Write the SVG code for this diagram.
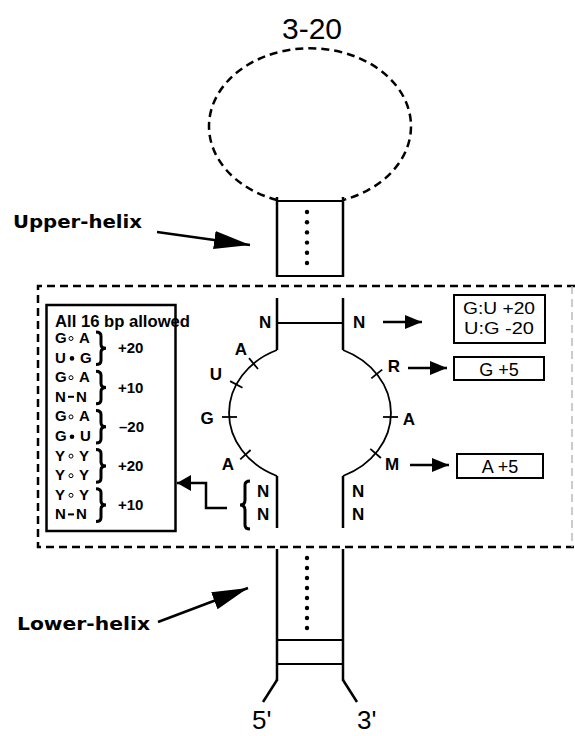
<svg xmlns="http://www.w3.org/2000/svg" width="575" height="736" viewBox="0 0 575 736">
<style>
  .ln{stroke:#000;fill:none;stroke-width:2.5;stroke-linecap:butt}
  .br{stroke:#000;fill:none;stroke-width:3}
  .thin{stroke:#000;fill:none;stroke-width:1.8}
  .dash{stroke:#000;fill:none;stroke-width:2.5;stroke-dasharray:8 5}
  .lbl{font-family:"Liberation Sans",Arial,sans-serif;font-weight:bold;font-size:17px;fill:#000}
  .big{font-family:"Liberation Sans",Arial,sans-serif;font-size:30px;fill:#000}
  .hx{font-family:"DejaVu Sans","Liberation Sans",sans-serif;font-weight:bold;font-size:18px;fill:#000}
  .bx{font-family:"Liberation Sans",Arial,sans-serif;font-weight:bold;font-size:15px;fill:#000}
  .rt{font-family:"Liberation Sans",Arial,sans-serif;font-size:18px;fill:#000}
  .dot{fill:#000}
</style>
<defs>
  <marker id="bigHead" markerUnits="userSpaceOnUse" markerWidth="38" markerHeight="20" refX="36" refY="9" orient="auto">
    <path d="M0,0 L36,9 L0,18 z" fill="#000"/>
  </marker>
  <marker id="smallHead" markerUnits="userSpaceOnUse" markerWidth="18" markerHeight="16" refX="17" refY="7" orient="auto">
    <path d="M0,0 L17,7 L0,14 z" fill="#000"/>
  </marker>
  <marker id="boxHead" markerUnits="userSpaceOnUse" markerWidth="16" markerHeight="18" refX="14" refY="8" orient="auto">
    <path d="M0,0 L14,8 L0,16 z" fill="#000"/>
  </marker>
</defs>

<!-- hairpin loop -->
<g id="hairpin-loop">
  <path class="dash" d="M277,200 A101,78 0 1 1 343,200"/>
  <text class="big" x="312" y="39" text-anchor="middle">3-20</text>
</g>

<!-- upper helix -->
<g id="upper-helix">
  <line class="ln" x1="277" y1="197" x2="277" y2="277"/>
  <line class="ln" x1="343" y1="197" x2="343" y2="277"/>
  <line class="thin" x1="277" y1="201" x2="343" y2="201"/>
  <line class="thin" x1="277" y1="276" x2="343" y2="276"/>
  <circle class="dot" cx="307" cy="212" r="2.2"/>
  <circle class="dot" cx="307" cy="222.2" r="2.2"/>
  <circle class="dot" cx="307" cy="232.4" r="2.2"/>
  <circle class="dot" cx="307" cy="242.6" r="2.2"/>
  <circle class="dot" cx="307" cy="252.8" r="2.2"/>
  <circle class="dot" cx="307" cy="263" r="2.2"/>
</g>
<g id="upper-helix-label">
  <text class="hx" x="13" y="228" textLength="129" lengthAdjust="spacingAndGlyphs">Upper-helix</text>
</g>

<!-- dashed region -->
<g id="internal-loop-region">
  <path class="dash" d="M575,286 H38 V547 H575"/>
  <path d="M572,286 V547" fill="none" stroke="#bbb" stroke-width="1.5" stroke-dasharray="8 5"/>
</g>

<!-- internal loop -->
<g id="internal-loop">
  <line class="ln" x1="277" y1="298" x2="277" y2="350"/>
  <line class="ln" x1="343" y1="298" x2="343" y2="350"/>
  <line class="thin" x1="277" y1="323" x2="343" y2="323"/>
  <path class="thin" d="M277,350 A81,69 0 0 0 277,476"/>
  <path class="thin" d="M343,350 A81,69 0 0 1 343,476"/>
  <line class="ln" x1="277" y1="476" x2="277" y2="528"/>
  <line class="ln" x1="343" y1="476" x2="343" y2="528"/>
  <!-- ticks -->
  <line class="thin" x1="249" y1="358.2" x2="258" y2="369"/>
  <line class="thin" x1="230.1" y1="381.1" x2="242.5" y2="387.7"/>
  <line class="thin" x1="222" y1="417" x2="237" y2="417"/>
  <line class="thin" x1="240.2" y1="459.4" x2="250.6" y2="450"/>
  <line class="thin" x1="371.3" y1="378.4" x2="382.2" y2="369.6"/>
  <line class="thin" x1="383" y1="417" x2="398" y2="417"/>
  <line class="thin" x1="370.3" y1="448.9" x2="380.9" y2="458"/>
  <!-- labels -->
  <text class="lbl" x="259" y="328">N</text>
  <text class="lbl" x="353" y="328">N</text>
  <text class="lbl" x="241" y="355" text-anchor="middle">A</text>
  <text class="lbl" x="216" y="380" text-anchor="middle">U</text>
  <text class="lbl" x="207" y="424" text-anchor="middle">G</text>
  <text class="lbl" x="228" y="470" text-anchor="middle">A</text>
  <text class="lbl" x="394" y="372" text-anchor="middle">R</text>
  <text class="lbl" x="409" y="425" text-anchor="middle">A</text>
  <text class="lbl" x="392" y="470" text-anchor="middle">M</text>
  <text class="lbl" x="257" y="497">N</text>
  <text class="lbl" x="257" y="520">N</text>
  <text class="lbl" x="352" y="497">N</text>
  <text class="lbl" x="352" y="520">N</text>
  <path class="br" d="M250,481 Q245,481 245,485 V500 Q245,505 240,505 Q245,505 245,510 V525 Q245,529 250,529"/>
</g>

<!-- left score box -->
<g id="pair-score-box">
  <rect x="46.5" y="305" width="129" height="226" fill="none" stroke="#000" stroke-width="2.5"/>
  <text class="bx" x="55" y="327" textLength="135" lengthAdjust="spacingAndGlyphs" style="font-size:16px">All 16 bp allowed</text>
  <!-- rows -->
  <text class="bx" x="55" y="343">G</text><circle cx="71" cy="338.5" r="2" fill="#fff" stroke="#000" stroke-width="1"/><text class="bx" x="79" y="343">A</text>
  <text class="bx" x="55" y="362.6">U</text><circle cx="72" cy="358.4" r="2.3" fill="#000"/><text class="bx" x="80" y="362.6">G</text>
  <text class="bx" x="55" y="382.2">G</text><circle cx="71" cy="377.7" r="2" fill="#fff" stroke="#000" stroke-width="1"/><text class="bx" x="79" y="382.2">A</text>
  <text class="bx" x="55" y="401.8">N</text><line x1="68" y1="396.8" x2="74" y2="396.8" stroke="#000" stroke-width="2"/><text class="bx" x="76" y="401.8">N</text>
  <text class="bx" x="55" y="421.4">G</text><circle cx="71" cy="416.9" r="2" fill="#fff" stroke="#000" stroke-width="1"/><text class="bx" x="79" y="421.4">A</text>
  <text class="bx" x="55" y="441">G</text><circle cx="72" cy="436.8" r="2.3" fill="#000"/><text class="bx" x="80" y="441">U</text>
  <text class="bx" x="55" y="460.6">Y</text><circle cx="71" cy="456.1" r="2" fill="#fff" stroke="#000" stroke-width="1"/><text class="bx" x="79" y="460.6">Y</text>
  <text class="bx" x="55" y="480.2">Y</text><circle cx="71" cy="475.7" r="2" fill="#fff" stroke="#000" stroke-width="1"/><text class="bx" x="79" y="480.2">Y</text>
  <text class="bx" x="55" y="499.8">Y</text><circle cx="71" cy="495.3" r="2" fill="#fff" stroke="#000" stroke-width="1"/><text class="bx" x="79" y="499.8">Y</text>
  <text class="bx" x="55" y="519.4">N</text><line x1="68" y1="514.4" x2="74" y2="514.4" stroke="#000" stroke-width="2"/><text class="bx" x="76" y="519.4">N</text>
  <!-- braces -->
  <path class="br" d="M96,332 Q101,332 101,336 V344.3 Q101,348.3 106,348.3 Q101,348.3 101,352.3 V360.6 Q101,364.6 96,364.6"/>
  <path class="br" d="M96,371.2 Q101,371.2 101,375.2 V383.5 Q101,387.5 106,387.5 Q101,387.5 101,391.5 V399.8 Q101,403.8 96,403.8"/>
  <path class="br" d="M96,410.4 Q101,410.4 101,414.4 V422.7 Q101,426.7 106,426.7 Q101,426.7 101,430.7 V439 Q101,443 96,443"/>
  <path class="br" d="M96,449.6 Q101,449.6 101,453.6 V461.9 Q101,465.9 106,465.9 Q101,465.9 101,469.9 V478.2 Q101,482.2 96,482.2"/>
  <path class="br" d="M96,488.8 Q101,488.8 101,492.8 V501.1 Q101,505.1 106,505.1 Q101,505.1 101,509.1 V517.4 Q101,521.4 96,521.4"/>
  <text class="bx" x="118" y="353.3">+20</text>
  <text class="bx" x="118" y="392.5">+10</text>
  <text class="bx" x="119" y="431.7">–20</text>
  <text class="bx" x="118" y="470.9">+20</text>
  <text class="bx" x="118" y="510.1">+10</text>
</g>

<!-- right score boxes -->
<g id="box-gu">
  <rect x="454" y="295" width="91" height="48" fill="none" stroke="#000" stroke-width="2"/>
  <text class="rt" x="499" y="314" text-anchor="middle" style="font-size:17px" textLength="72" lengthAdjust="spacingAndGlyphs">G:U +20</text>
  <text class="rt" x="499" y="334" text-anchor="middle" style="font-size:17px" textLength="70" lengthAdjust="spacingAndGlyphs">U:G -20</text>
</g>
<g id="box-g5">
  <rect x="454" y="357" width="90" height="23" fill="none" stroke="#000" stroke-width="2"/>
  <text class="rt" x="499" y="376" text-anchor="middle">G +5</text>
</g>
<g id="box-a5">
  <rect x="457" y="454" width="86" height="24" fill="none" stroke="#000" stroke-width="2"/>
  <text class="rt" x="500" y="473" text-anchor="middle">A +5</text>
</g>

<!-- lower helix -->
<g id="lower-helix">
  <line class="ln" x1="277" y1="549" x2="277" y2="681"/>
  <line class="ln" x1="343" y1="549" x2="343" y2="681"/>
  <line class="thin" x1="277" y1="640" x2="343" y2="640"/>
  <line class="thin" x1="277" y1="664" x2="343" y2="664"/>
  <line class="ln" x1="277" y1="680" x2="263" y2="702"/>
  <line class="ln" x1="343" y1="680" x2="357" y2="702"/>
  <circle class="dot" cx="307" cy="558" r="2.2"/>
  <circle class="dot" cx="307" cy="568" r="2.2"/>
  <circle class="dot" cx="307" cy="578" r="2.2"/>
  <circle class="dot" cx="307" cy="588" r="2.2"/>
  <circle class="dot" cx="307" cy="598" r="2.2"/>
  <circle class="dot" cx="307" cy="608" r="2.2"/>
  <circle class="dot" cx="307" cy="618" r="2.2"/>
  <circle class="dot" cx="307" cy="628" r="2.2"/>
  <text class="big" x="252" y="729" style="font-size:26px">5'</text>
  <text class="big" x="357" y="729" style="font-size:26px">3'</text>
</g>
<g id="lower-helix-label">
  <text class="hx" x="17" y="630" textLength="133" lengthAdjust="spacingAndGlyphs">Lower-helix</text>
</g>

<!-- connectors -->
<g id="connectors">
  <line class="ln" x1="157" y1="232" x2="250" y2="245" marker-end="url(#bigHead)"/>
  <line class="ln" x1="158" y1="622" x2="248" y2="588" marker-end="url(#bigHead)"/>
  <line class="ln" x1="383" y1="322" x2="422" y2="322" marker-end="url(#smallHead)"/>
  <line class="ln" x1="408" y1="368" x2="447" y2="368" marker-end="url(#smallHead)"/>
  <line class="ln" x1="410" y1="465" x2="449" y2="465" marker-end="url(#smallHead)"/>
  <path class="ln" d="M227,508 H206 V483 H177" marker-end="url(#boxHead)"/>
</g>
</svg>
